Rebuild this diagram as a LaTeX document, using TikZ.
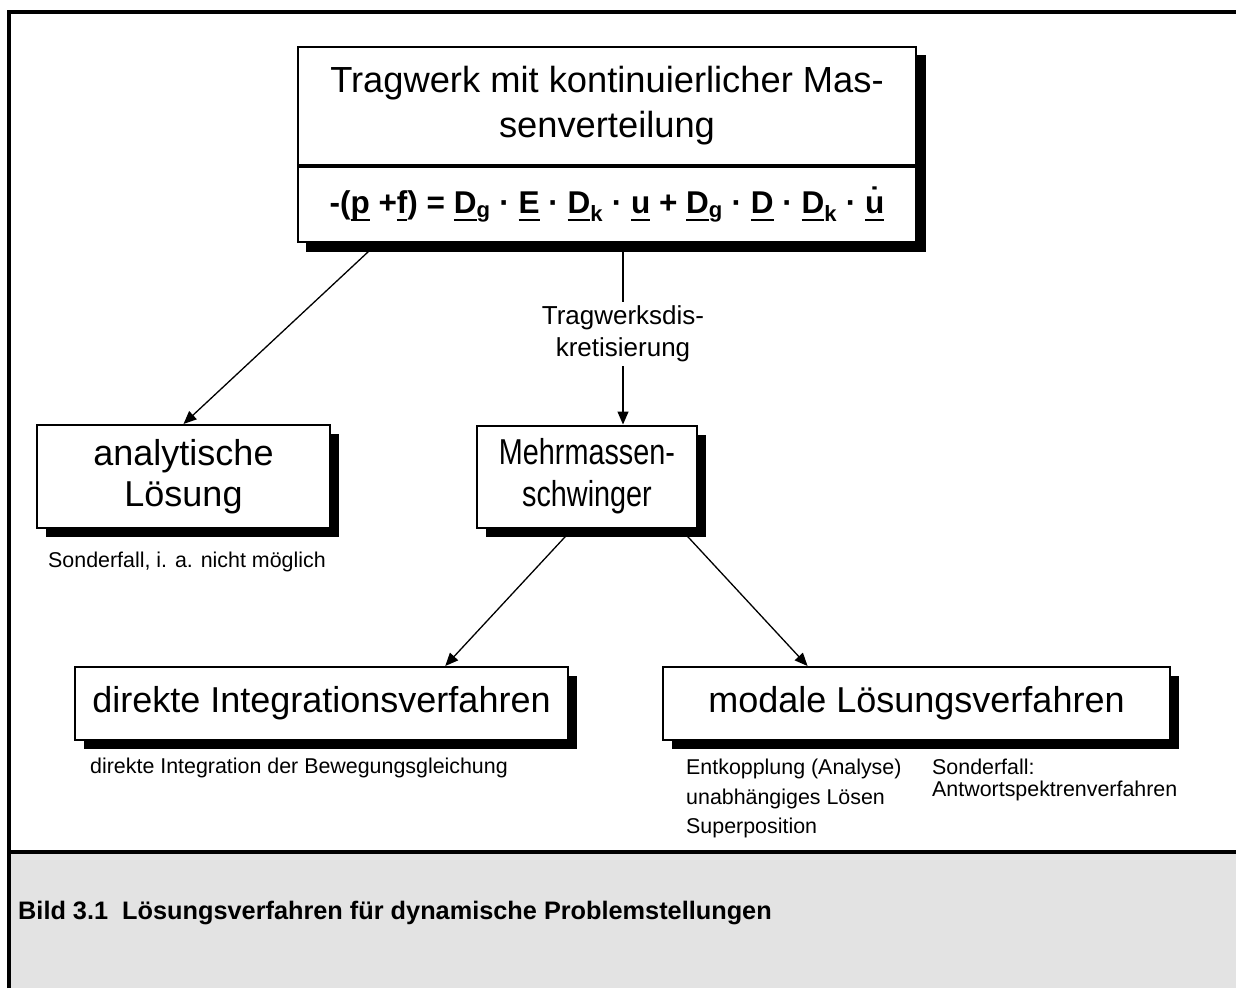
\documentclass[tikz,border=0pt]{standalone}
\usepackage{fontspec}
\setmainfont{Liberation Sans}
\usetikzlibrary{positioning,shadows,arrows.meta,calc,backgrounds}
\definecolor{capgray}{HTML}{E3E3E3}
\newcommand\unterstr[1]{\setbox0\hbox{#1}\rlap{\rule[-7.5pt]{\wd0}{2.6pt}}\box0\relax}

\begin{document}
\begin{tikzpicture}[x=1pt,y=-1pt,
  oben/.style={draw,line width=2pt,fill=white,inner sep=0pt,align=center},
  kasten/.style={oben,font=\fontsize{36}{41}\selectfont,
    drop shadow={shadow xshift=9pt,shadow yshift=-9pt,fill=black,opacity=1}},
  notiz/.style={inner sep=0pt,align=left,font=\fontsize{21.4}{29.5}\selectfont},
  verbinder/.style={line width=1.3pt},
  >={Triangle[length=13pt,width=11pt]}]
\useasboundingbox (0,0) rectangle (1236,988);
% frame and caption field
\fill[capgray] (11,854) rectangle (1236,988);
\draw[line width=4pt] (9,988) -- (9,12) -- (1236,12);
\draw[line width=4pt] (9,852) -- (1236,852);

\node[oben,minimum width=618pt,minimum height=118pt,font=\fontsize{36.3}{45}\selectfont] (tragwerk) at (607,106) {Tragwerk mit kontinuierlicher Mas-\\senverteilung};
\node[oben,minimum width=618pt,minimum height=75pt,font=\bfseries\fontsize{31.5}{34}\selectfont,below=0pt of tragwerk] (gleichung) {-(\unterstr{p} +\unterstr{f}) = \unterstr{D}\textsubscript{g} · \unterstr{E} · \unterstr{D}\textsubscript{k} · \unterstr{u} + \unterstr{D}\textsubscript{g} · \unterstr{D} · \unterstr{D}\textsubscript{k} · \unterstr{\.{u}}};
\begin{scope}[on background layer]
  \fill ([shift={(9,9)}]tragwerk.north west) rectangle ([shift={(9,9)}]gleichung.south east);
\end{scope}

\node[kasten,minimum width=293pt,minimum height=103pt] (analyt) at (183.5,476.5) {analytische\\Lösung};
\node[kasten,minimum width=220pt,minimum height=102pt,font=\fontsize{36}{42}\selectfont\addfontfeature{FakeStretch=0.8}] (mehr) at (587,476.5) {Mehrmassen-\\schwinger};
\node[kasten,minimum width=493pt,minimum height=73pt] (direkt) at (321.5,703.5) {direkte Integrationsverfahren};
\node[kasten,minimum width=507pt,minimum height=73pt] (modal) at (916.5,703.5) {modale Lösungsverfahren};

\node[notiz,align=center,inner sep=4pt,font=\fontsize{26}{32}\selectfont] (diskret) at (623,334) {Tragwerksdis-\\kretisierung};

% connectors
\draw[verbinder,->] ($(gleichung.south west)!0.13!(gleichung.south east)$) -- (analyt.north);
\draw[verbinder] (diskret |- gleichung.south) -- (diskret.north);
\draw[verbinder,->] (diskret.south) -- (diskret |- mehr.north);
\draw[verbinder,->] ($(mehr.south west)!0.436!(mehr.south east)$) -- ($(direkt.north west)!0.75!(direkt.north east)$);
\draw[verbinder,->] ($(mehr.south west)!0.92!(mehr.south east)$) -- ($(modal.north west)!0.286!(modal.north east)$);

% notes
\node[notiz,anchor=west] (analytnote) at (48,562) {Sonderfall, i. a. nicht möglich};
\node[notiz,anchor=west] (direktnote) at (90,768) {direkte Integration der Bewegungsgleichung};
\node[notiz,anchor=north west] (modalnote) at (686,759) {Entkopplung (Analyse)\\unabhängiges Lösen\\Superposition};
\node[notiz,anchor=north west,font=\fontsize{21.4}{22}\selectfont] (sondernote) at (932,759) {Sonderfall:\\Antwortspektrenverfahren};

\node[anchor=west,inner sep=0pt,font=\bfseries\fontsize{25.3}{28}\selectfont] (bild) at (18,913) {Bild 3.1\ \ Lösungsverfahren für dynamische Problemstellungen};
\end{tikzpicture}
\end{document}
